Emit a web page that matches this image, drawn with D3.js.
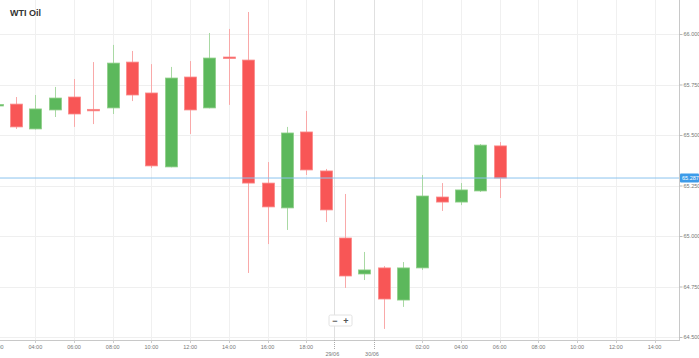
<!DOCTYPE html>
<html><head><meta charset="utf-8">
<script src="https://cdn.jsdelivr.net/npm/d3@7"></script>
<style>body{margin:0;background:#fff;} svg{display:block;font-family:"Liberation Sans",Arial,sans-serif;}</style>
</head><body>
<script>
const title = "WTI Oil";
const idx = [0,1,2,3,4,5,6,7,8,9,10,11,12,13,14,15,16,17,18,19,20,21,22,23,24,25,26];
const open  = [65.646,65.653,65.530,65.624,65.688,65.627,65.634,65.861,65.708,65.342,65.787,65.634,65.886,65.871,65.262,65.139,65.515,65.322,64.990,64.812,64.842,64.683,64.842,65.193,65.168,65.223,65.446];
const high  = [65.658,65.688,65.698,65.738,65.777,65.861,65.946,65.916,65.851,65.837,65.866,66.005,66.025,66.109,65.366,65.540,65.619,65.332,65.208,64.921,64.851,64.871,65.302,65.262,65.262,65.455,65.465];
const low   = [65.639,65.530,65.527,65.589,65.540,65.554,65.604,65.668,65.337,65.340,65.505,65.632,65.649,64.817,64.960,65.030,65.302,65.069,64.743,64.782,64.540,64.649,64.832,65.124,65.153,65.218,65.188];
const close = [65.651,65.540,65.629,65.683,65.604,65.625,65.856,65.698,65.347,65.782,65.624,65.881,65.881,65.262,65.144,65.510,65.327,65.129,64.802,64.832,64.688,64.842,65.198,65.168,65.228,65.450,65.287];
const lastPrice = 65.287;
const yTicks = [64.5,64.75,65,65.25,65.5,65.75,66];
const xTickIdx = [0,2,4,6,8,10,12,14,16,22,24,26,28,30,32,34];
const xTickLabels = ["02:00","04:00","06:00","08:00","10:00","12:00","14:00","16:00","18:00","02:00","04:00","06:00","08:00","10:00","12:00","14:00"];
const dateTickIdx = [17.45,19.5];
const dateTickLabels = ["29/06","30/06"];

const W=699,H=358;
const svg=d3.select("body").append("svg").attr("width",W).attr("height",H);
const x=d3.scaleLinear().domain([0,34]).range([-3.35,654.55]);
const y=d3.scaleLinear().domain([64.5,66]).range([337,34]);
const axisX=679, axisY=340;

// grid
svg.append("g").selectAll("line").data(yTicks).join("line")
  .attr("x1",0).attr("x2",axisX).attr("y1",d=>Math.round(y(d))+0.5).attr("y2",d=>Math.round(y(d))+0.5)
  .attr("stroke","#efefef");
svg.append("g").selectAll("line").data(xTickIdx).join("line")
  .attr("x1",d=>Math.round(x(d))+0.5).attr("x2",d=>Math.round(x(d))+0.5).attr("y1",0).attr("y2",axisY)
  .attr("stroke","#f0f0f0");
svg.append("g").selectAll("line").data(dateTickIdx).join("line")
  .attr("x1",d=>Math.round(x(d))+0.5).attr("x2",d=>Math.round(x(d))+0.5).attr("y1",0).attr("y2",axisY)
  .attr("stroke","#e0e0e0");

// candles
const up="#5cb85c", dn="#f85656", upW="#a9d9a4", dnW="#f9a9a9";
const bw=12;
const g=svg.append("g");
g.selectAll("line.w").data(idx).join("line").attr("class","w")
  .attr("x1",i=>Math.round(x(i))+0.5).attr("x2",i=>Math.round(x(i))+0.5)
  .attr("y1",i=>y(high[i])).attr("y2",i=>y(low[i]))
  .attr("stroke",i=>close[i]>=open[i]?upW:dnW).attr("stroke-width",1);
g.selectAll("rect.b").data(idx).join("rect").attr("class","b")
  .attr("x",i=>Math.round(x(i))-bw/2+0.5).attr("width",bw)
  .attr("y",i=>y(Math.max(open[i],close[i])))
  .attr("height",i=>Math.max(1.5,Math.abs(y(open[i])-y(close[i]))))
  .attr("fill",i=>close[i]>=open[i]?up:dn)
  .attr("stroke",i=>close[i]>=open[i]?"#8fcf89":"#fa8a8a").attr("stroke-width",0.8);

// current price line
svg.append("line").attr("x1",0).attr("x2",axisX).attr("y1",y(lastPrice)).attr("y2",y(lastPrice))
  .attr("stroke","#8cc4ee").attr("stroke-width",1);

// right axis
const ra=svg.append("g").attr("transform",`translate(${axisX+0.5},0)`)
  .call(d3.axisRight(y).tickValues(yTicks).tickSize(3).tickFormat(d3.format(".3f")));
ra.select(".domain").attr("d",`M0,0V${axisY+0.5}`).attr("stroke","#c8c8c8");
ra.selectAll(".tick line").attr("stroke","#bbb");
ra.selectAll(".tick text").attr("x",4).attr("fill","#777").attr("font-size",5.5).attr("font-family","Liberation Sans, Arial");

// bottom axis
svg.append("line").attr("x1",0).attr("x2",axisX+1).attr("y1",axisY+0.5).attr("y2",axisY+0.5).attr("stroke","#c8c8c8");
const bx=svg.append("g");
bx.selectAll("line").data(xTickIdx).join("line")
  .attr("x1",d=>Math.round(x(d))+0.5).attr("x2",d=>Math.round(x(d))+0.5).attr("y1",axisY).attr("y2",axisY+3).attr("stroke","#ccc");
bx.selectAll("text").data(xTickIdx).join("text")
  .attr("x",d=>x(d)).attr("y",axisY+9).attr("text-anchor","middle").attr("font-size",5.5).attr("fill","#777")
  .text((d,i)=>xTickLabels[i]);
const dx=svg.append("g");
dx.selectAll("line").data(dateTickIdx).join("line")
  .attr("x1",d=>Math.round(x(d))+0.5).attr("x2",d=>Math.round(x(d))+0.5).attr("y1",axisY).attr("y2",axisY+10)
  .attr("stroke","#aaa").attr("stroke-dasharray","1,1");
dx.selectAll("text").data(dateTickIdx).join("text")
  .attr("x",d=>x(d)-2).attr("y",axisY+16).attr("text-anchor","middle").attr("font-size",5.5).attr("fill","#777")
  .text((d,i)=>dateTickLabels[i]);

// price label
const py=y(lastPrice);
svg.append("rect").attr("x",axisX+1).attr("y",py-4.5).attr("width",W-axisX-1).attr("height",9).attr("fill","#3d9be9").attr("rx",1);
svg.append("text").attr("x",axisX+3).attr("y",py+2).attr("font-size",5.5).attr("fill","#fff").text(lastPrice.toFixed(3));

// title
svg.append("text").attr("x",10).attr("y",16).attr("font-size",9).attr("font-weight","bold").attr("fill","#333").text(title);

// zoom control
const zc=svg.append("g").attr("transform","translate(329,315)");
zc.append("rect").attr("width",23).attr("height",11).attr("rx",1.5).attr("fill","#fff").attr("stroke","#e2e2e2");
zc.append("text").attr("x",6).attr("y",8.5).attr("text-anchor","middle").attr("font-size",9).attr("font-weight","bold").attr("fill","#555").text("−");
zc.append("text").attr("x",17).attr("y",8.5).attr("text-anchor","middle").attr("font-size",9).attr("font-weight","bold").attr("fill","#555").text("+");
</script>
</body></html>
